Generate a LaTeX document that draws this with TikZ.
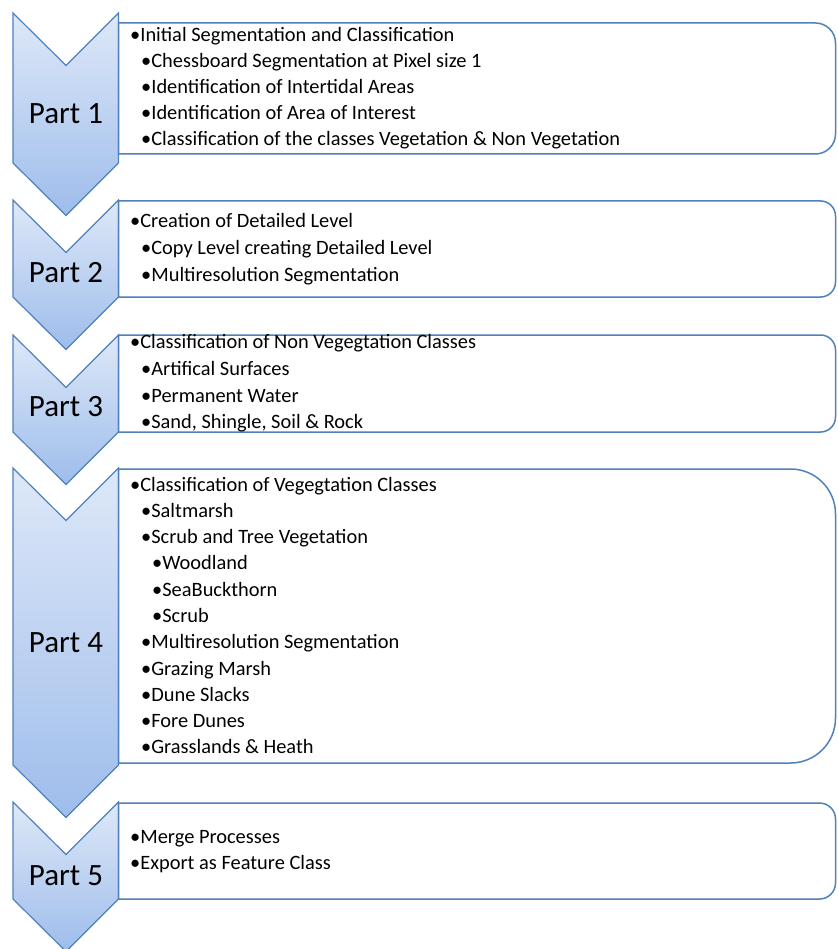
\documentclass[tikz,border=0pt]{standalone}
\usepackage{fontspec}
\setmainfont{Carlito}
\definecolor{lineblue}{RGB}{79,129,189}
\definecolor{chevtop}{RGB}{222,232,248}
\definecolor{chevbot}{RGB}{158,189,235}
\tikzset{
  chev/.style={draw=lineblue, line width=1.2pt, line join=miter, top color=chevtop, bottom color=chevbot},
  boxs/.style={draw=lineblue, line width=1.5pt, fill=white},
  txt/.style={anchor=base west, inner sep=0pt, font=\fontsize{20.4}{24}\selectfont, text=black},
  partlbl/.style={anchor=base, inner sep=0pt, font=\fontsize{31}{36}\selectfont, text=black}
}
\newcommand\mychev[2]{% top, shoulder
  \path[chev] (13,#1) -- (66,#1+52.5) -- (118.5,#1) -- (118.5,#2) -- (66,#2+52.5) -- (13,#2) -- cycle;}
\newcommand\mybox[3]{% top, bottom, radius
  \path[boxs] (118.5,#1) -- (835.5-#3,#1) arc[start angle=-90,end angle=0,radius=#3]
    -- (835.5,#2-#3) arc[start angle=0,end angle=90,radius=#3] -- (118.5,#2) -- cycle;}
\newcommand\mytline[4]{\node[txt] (#1) at (#2,#3) {•#4};}
\begin{document}
\begin{tikzpicture}[x=1pt,y=-1pt]
\useasboundingbox (0,0) rectangle (837,949);
\clip (0,0) rectangle (837,949);
\fill[white] (0,0) rectangle (837,949);
% chevrons
\mychev{13}{163}
\mychev{200}{297}
\mychev{335}{432}
\mychev{468}{765}
\mychev{802}{899}
% boxes
\mybox{23}{154}{20}
\mybox{201}{297}{15}
\mybox{335}{432}{15}
\mybox{469}{763}{45}
\mybox{803}{899}{16}
% part labels
\node[partlbl] (p1) at (66,124) {Part 1};
\node[partlbl] (p2) at (66,283) {Part 2};
\node[partlbl] (p3) at (66,416) {Part 3};
\node[partlbl] (p4) at (66,652) {Part 4};
\node[partlbl] (p5) at (66,885) {Part 5};
% box 1
\mytline{a1}{130}{42}{Initial Segmentation and Classification}
\mytline{a2}{141}{68}{Chessboard Segmentation at Pixel size 1}
\mytline{a3}{141}{94}{Identification of Intertidal Areas}
\mytline{a4}{141}{120}{Identification of Area of Interest}
\mytline{a5}{141}{146}{Classification of the classes Vegetation \& Non Vegetation}
% box 2
\mytline{b1}{130}{228}{Creation of Detailed Level}
\mytline{b2}{141}{255}{Copy Level creating Detailed Level}
\mytline{b3}{141}{281}{Multiresolution Segmentation}
% box 3
\mytline{c1}{130}{348}{Classification of Non Vegegtation Classes}
\mytline{c2}{141}{375}{Artifical Surfaces}
\mytline{c3}{141}{402}{Permanent Water}
\mytline{c4}{141}{428}{Sand, Shingle, Soil \& Rock}
% box 4
\mytline{d1}{130}{491}{Classification of Vegegtation Classes}
\mytline{d2}{141}{517}{Saltmarsh}
\mytline{d3}{141}{543}{Scrub and Tree Vegetation}
\mytline{d4}{152}{569}{Woodland}
\mytline{d5}{152}{596}{SeaBuckthorn}
\mytline{d6}{152}{622}{Scrub}
\mytline{d7}{141}{648}{Multiresolution Segmentation}
\mytline{d8}{141}{675}{Grazing Marsh}
\mytline{d9}{141}{701}{Dune Slacks}
\mytline{d10}{141}{727}{Fore Dunes}
\mytline{d11}{141}{753}{Grasslands \& Heath}
% box 5
\mytline{e1}{130}{843}{Merge Processes}
\mytline{e2}{130}{869}{Export as Feature Class}
\end{tikzpicture}
\end{document}
